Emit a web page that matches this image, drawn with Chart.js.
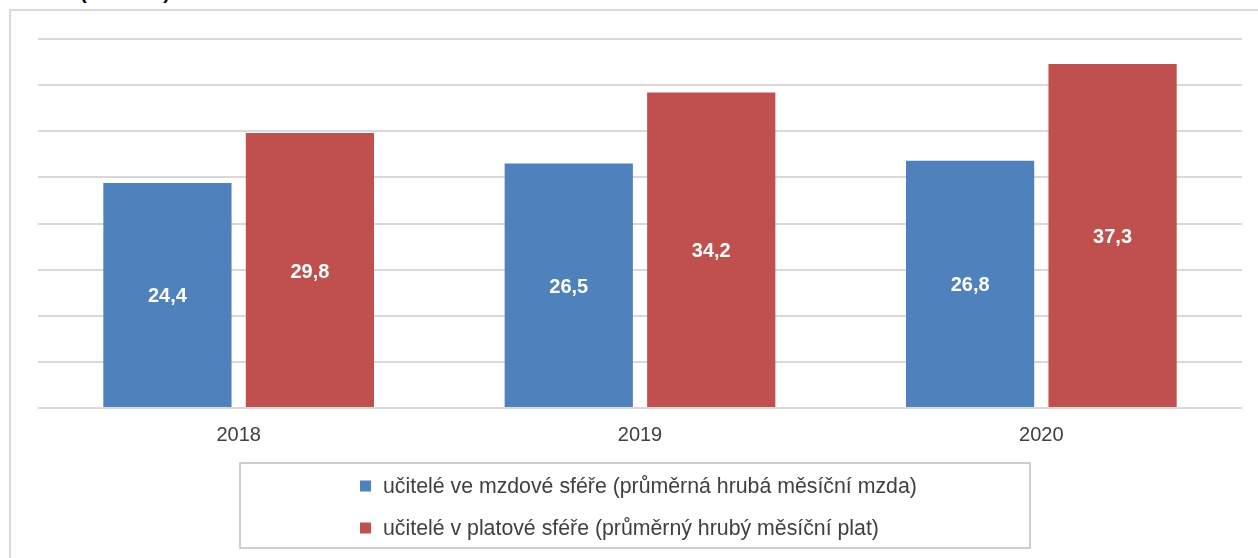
<!DOCTYPE html>
<html>
<head>
<meta charset="utf-8">
<script src="https://cdn.jsdelivr.net/npm/chart.js@4/dist/chart.umd.min.js"></script>
<style>
  html, body { margin: 0; padding: 0; background: #fff; overflow: hidden; }
  #wrap { position: relative; width: 1258px; height: 558px; }
  #frame { position: absolute; left: 9px; top: 9px; width: 1300px; height: 600px; border: 2px solid #d9d9d9; box-sizing: border-box; }
  #title { position: absolute; left: 80px; top: -18px; font: bold 20px "Liberation Sans", Arial, sans-serif; line-height: 20px; color: #000; white-space: nowrap; }
  canvas { position: absolute; left: 0; top: 0; }
</style>
</head>
<body>
<div id="wrap">
  <div id="frame"></div>
  <div id="title">(v tis. Kč)</div>
  <canvas id="c" width="1258" height="558"></canvas>
</div>
<script>
const categories = ["2018", "2019", "2020"];
const seriesLabels = [
  "učitelé ve mzdové sféře (průměrná hrubá měsíční mzda)",
  "učitelé v platové sféře (průměrný hrubý měsíční plat)"
];
const mzdovaSfera = [24.4, 26.5, 26.8];
const platovaSfera = [29.8, 34.2, 37.3];
const seriesColors = ["#4f81bd", "#c0504d"];

const FONT = '"Liberation Sans", Arial, sans-serif';

const valueLabels = {
  id: 'valueLabels',
  afterDatasetsDraw(chart) {
    const ctx = chart.ctx;
    ctx.save();
    ctx.font = 'bold 20px ' + FONT;
    ctx.fillStyle = '#ffffff';
    ctx.textAlign = 'center';
    ctx.textBaseline = 'middle';
    chart.data.datasets.forEach((ds, di) => {
      chart.getDatasetMeta(di).data.forEach((el, i) => {
        const v = ds.data[i];
        const y = (el.y + el.base) / 2;
        ctx.fillText(v.toFixed(1).replace('.', ','), el.x, y + 2);
      });
    });
    ctx.restore();
  }
};

const boxedLegend = {
  id: 'boxedLegend',
  afterDraw(chart, args, opts) {
    const ctx = chart.ctx;
    ctx.save();
    ctx.strokeStyle = '#bfbfbf';
    ctx.lineWidth = 1.5;
    ctx.strokeRect(opts.x, opts.y, opts.w, opts.h);
    ctx.font = opts.fontSize + 'px ' + FONT;
    ctx.textBaseline = 'middle';
    ctx.textAlign = 'left';
    chart.data.datasets.forEach((ds, i) => {
      const cy = opts.firstRowY + i * opts.rowGap;
      ctx.fillStyle = ds.backgroundColor;
      ctx.fillRect(opts.markerX, cy - opts.marker / 2, opts.marker, opts.marker);
      ctx.fillStyle = '#404040';
      ctx.fillText(ds.label, opts.textX, cy + 1);
    });
    ctx.restore();
  }
};

new Chart(document.getElementById('c'), {
  type: 'bar',
  data: {
    labels: categories,
    datasets: [
      { label: seriesLabels[0], data: mzdovaSfera, backgroundColor: seriesColors[0] },
      { label: seriesLabels[1], data: platovaSfera, backgroundColor: seriesColors[1] }
    ]
  },
  options: {
    responsive: false,
    animation: false,
    devicePixelRatio: 1,
    layout: { padding: { left: 38, right: 16, top: 39, bottom: 0 } },
    datasets: { bar: { categoryPercentage: 0.71, barPercentage: 0.9 } },
    plugins: {
      legend: { display: false },
      tooltip: { enabled: false },
      boxedLegend: { x: 240, y: 463, w: 790, h: 85, marker: 11, markerX: 360, textX: 383, firstRowY: 486, rowGap: 42, fontSize: 21.3 }
    },
    scales: {
      x: {
        grid: { display: false, drawTicks: false },
        border: { display: false },
        ticks: { color: '#404040', font: { family: FONT, size: 20 }, padding: 15 },
        afterFit(s) { s.height = 150; }
      },
      y: {
        min: 0, max: 40,
        ticks: { display: false, stepSize: 5 },
        grid: { color: '#d9d9d9', lineWidth: 2, drawTicks: false },
        border: { display: false },
        afterFit(s) { s.width = 0; }
      }
    }
  },
  plugins: [valueLabels, boxedLegend]
});
</script>
</body>
</html>
